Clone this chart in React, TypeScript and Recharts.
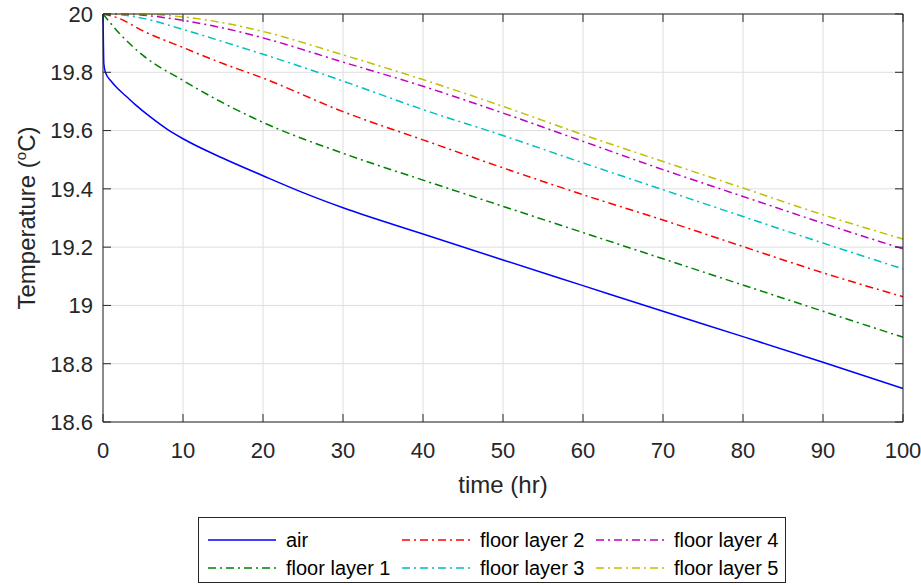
import { LineChart, Line, XAxis, YAxis, CartesianGrid } from 'recharts';

// time axis (hr) and temperatures (°C)
const airTime = [0, 0.05, 0.1, 0.3, 1, 2, 3, 4, 6, 8, 10, 15, 20, 25, 30, 40, 50, 60, 70, 80, 90, 100];
const airTemp = [20, 19.9, 19.83, 19.8, 19.77, 19.74, 19.715, 19.69, 19.645, 19.605, 19.572, 19.505, 19.445, 19.387, 19.335, 19.245, 19.156, 19.068, 18.98, 18.893, 18.805, 18.715];

const layerTime = [0, 2, 5, 10, 15, 20, 30, 40, 50, 60, 70, 80, 90, 100];
const floor1 = [20, 19.935, 19.858, 19.772, 19.695, 19.628, 19.522, 19.43, 19.34, 19.25, 19.16, 19.07, 18.98, 18.891];
const floor2 = [20, 19.985, 19.942, 19.885, 19.83, 19.78, 19.665, 19.568, 19.472, 19.38, 19.293, 19.202, 19.112, 19.03];
const floor3 = [20, 19.998, 19.985, 19.947, 19.905, 19.862, 19.77, 19.672, 19.583, 19.489, 19.397, 19.305, 19.214, 19.125];
const floor4 = [20, 20, 19.996, 19.978, 19.952, 19.918, 19.835, 19.752, 19.66, 19.563, 19.466, 19.374, 19.282, 19.194];
const floor5 = [20, 20, 19.999, 19.99, 19.97, 19.94, 19.86, 19.775, 19.683, 19.586, 19.494, 19.403, 19.311, 19.228];

const xTicks = [0, 10, 20, 30, 40, 50, 60, 70, 80, 90, 100];
const yTicks = [18.6, 18.8, 19, 19.2, 19.4, 19.6, 19.8, 20];

const toPoints = (time: number[], vals: number[]) => time.map((t, i) => ({ t, v: vals[i] }));

const DASHDOT = '8 4 2 4';

const series = [
  { name: 'air', data: toPoints(airTime, airTemp), color: '#0000ff', dash: undefined },
  { name: 'floor layer 1', data: toPoints(layerTime, floor1), color: '#008000', dash: DASHDOT },
  { name: 'floor layer 2', data: toPoints(layerTime, floor2), color: '#ff0000', dash: DASHDOT },
  { name: 'floor layer 3', data: toPoints(layerTime, floor3), color: '#00bfbf', dash: DASHDOT },
  { name: 'floor layer 4', data: toPoints(layerTime, floor4), color: '#bf00bf', dash: DASHDOT },
  { name: 'floor layer 5', data: toPoints(layerTime, floor5), color: '#bfbf00', dash: DASHDOT },
];

const INK = '#262626';
const FONT = '"Liberation Sans", Arial, sans-serif';
const noLabel = () => <g />;

const LegendBox = () => {
  // column-major like MATLAB: 3 columns, 2 rows
  const cols = [series.slice(0, 2), series.slice(2, 4), series.slice(4, 6)];
  return (
    <div
      style={{
        position: 'absolute',
        left: 198,
        top: 517,
        width: 586,
        height: 64,
        border: `1px solid ${INK}`,
        background: '#fff',
        display: 'flex',
        fontFamily: FONT,
        fontSize: 20,
        color: '#000',
      }}
    >
      {cols.map((col, ci) => (
        <div key={ci} style={{ width: ci === 2 ? 198 : 194, display: 'flex', flexDirection: 'column', paddingTop: 8 }}>
          {col.map((s) => (
            <div key={s.name} style={{ display: 'flex', alignItems: 'center', height: 29 }}>
              <svg width={78} height={10} style={{ marginLeft: 9 }}>
                <line x1={0} y1={5} x2={68} y2={5} stroke={s.color} strokeWidth={1.5} strokeDasharray={s.dash} />
              </svg>
              <span>{s.name}</span>
            </div>
          ))}
        </div>
      ))}
    </div>
  );
};

export default function App() {
  return (
    <div style={{ position: 'absolute', left: 0, top: 0, width: 921, height: 585, background: '#fff' }}>
      <LineChart width={921} height={585} margin={{ top: 14, right: 18, left: 0, bottom: 0 }} style={{ fontFamily: FONT }}>
        <CartesianGrid stroke="#dedede" vertical horizontal />
        <XAxis
          dataKey="t"
          type="number"
          domain={[0, 100]}
          ticks={xTicks}
          height={163}
          tickLine={false}
          tickSize={8}
          tickMargin={12}
          axisLine={{ stroke: INK }}
          tick={{ fill: INK, fontSize: 22 }}
          label={(p: any) => {
            const vb = p.viewBox;
            return (
              <text x={vb.x + vb.width / 2} y={vb.y + 71} textAnchor="middle" fill={INK} fontSize={24}>
                time (hr)
              </text>
            );
          }}
        />
        {/* inner tick marks and the top/right frame, MATLAB style */}
        <XAxis xAxisId="tickB" dataKey="t" type="number" domain={[0, 100]} ticks={xTicks} mirror orientation="bottom" tick={noLabel} axisLine={false} tickLine={{ stroke: INK }} tickSize={8} />
        <XAxis xAxisId="top" dataKey="t" type="number" domain={[0, 100]} ticks={xTicks} mirror orientation="top" tick={noLabel} axisLine={{ stroke: INK }} tickLine={{ stroke: INK }} tickSize={8} />
        <YAxis
          type="number"
          domain={[18.6, 20]}
          ticks={yTicks}
          width={103}
          tickLine={false}
          tickSize={8}
          tickMargin={2}
          axisLine={{ stroke: INK }}
          tick={{ fill: INK, fontSize: 22 }}
          label={(p: any) => {
            const vb = p.viewBox;
            const cx = vb.x + 35;
            const cy = vb.y + vb.height / 2;
            return (
              <text x={cx} y={cy} transform={`rotate(-90 ${cx} ${cy})`} textAnchor="middle" fill={INK} fontSize={24}>
                Temperature (<tspan dy={-9} fontSize={15}>o</tspan>
                <tspan dy={9}>C)</tspan>
              </text>
            );
          }}
        />
        <YAxis yAxisId="tickL" type="number" domain={[18.6, 20]} ticks={yTicks} mirror orientation="left" tick={noLabel} axisLine={false} tickLine={{ stroke: INK }} tickSize={8} />
        <YAxis yAxisId="right" type="number" domain={[18.6, 20]} ticks={yTicks} mirror orientation="right" tick={noLabel} axisLine={{ stroke: INK }} tickLine={{ stroke: INK }} tickSize={8} />
        {/* invisible carriers so the extra axes get rendered */}
        <Line xAxisId="tickB" yAxisId="tickL" data={series[0].data} dataKey="v" stroke="transparent" dot={false} activeDot={false} legendType="none" isAnimationActive={false} />
        <Line xAxisId="top" yAxisId="right" data={series[0].data} dataKey="v" stroke="transparent" dot={false} activeDot={false} legendType="none" isAnimationActive={false} />
        {series.map((s) => (
          <Line
            key={s.name}
            data={s.data}
            dataKey="v"
            name={s.name}
            type="monotone"
            stroke={s.color}
            strokeWidth={1.5}
            strokeDasharray={s.dash}
            dot={false}
            activeDot={false}
            isAnimationActive={false}
          />
        ))}
      </LineChart>
      <LegendBox />
    </div>
  );
}
